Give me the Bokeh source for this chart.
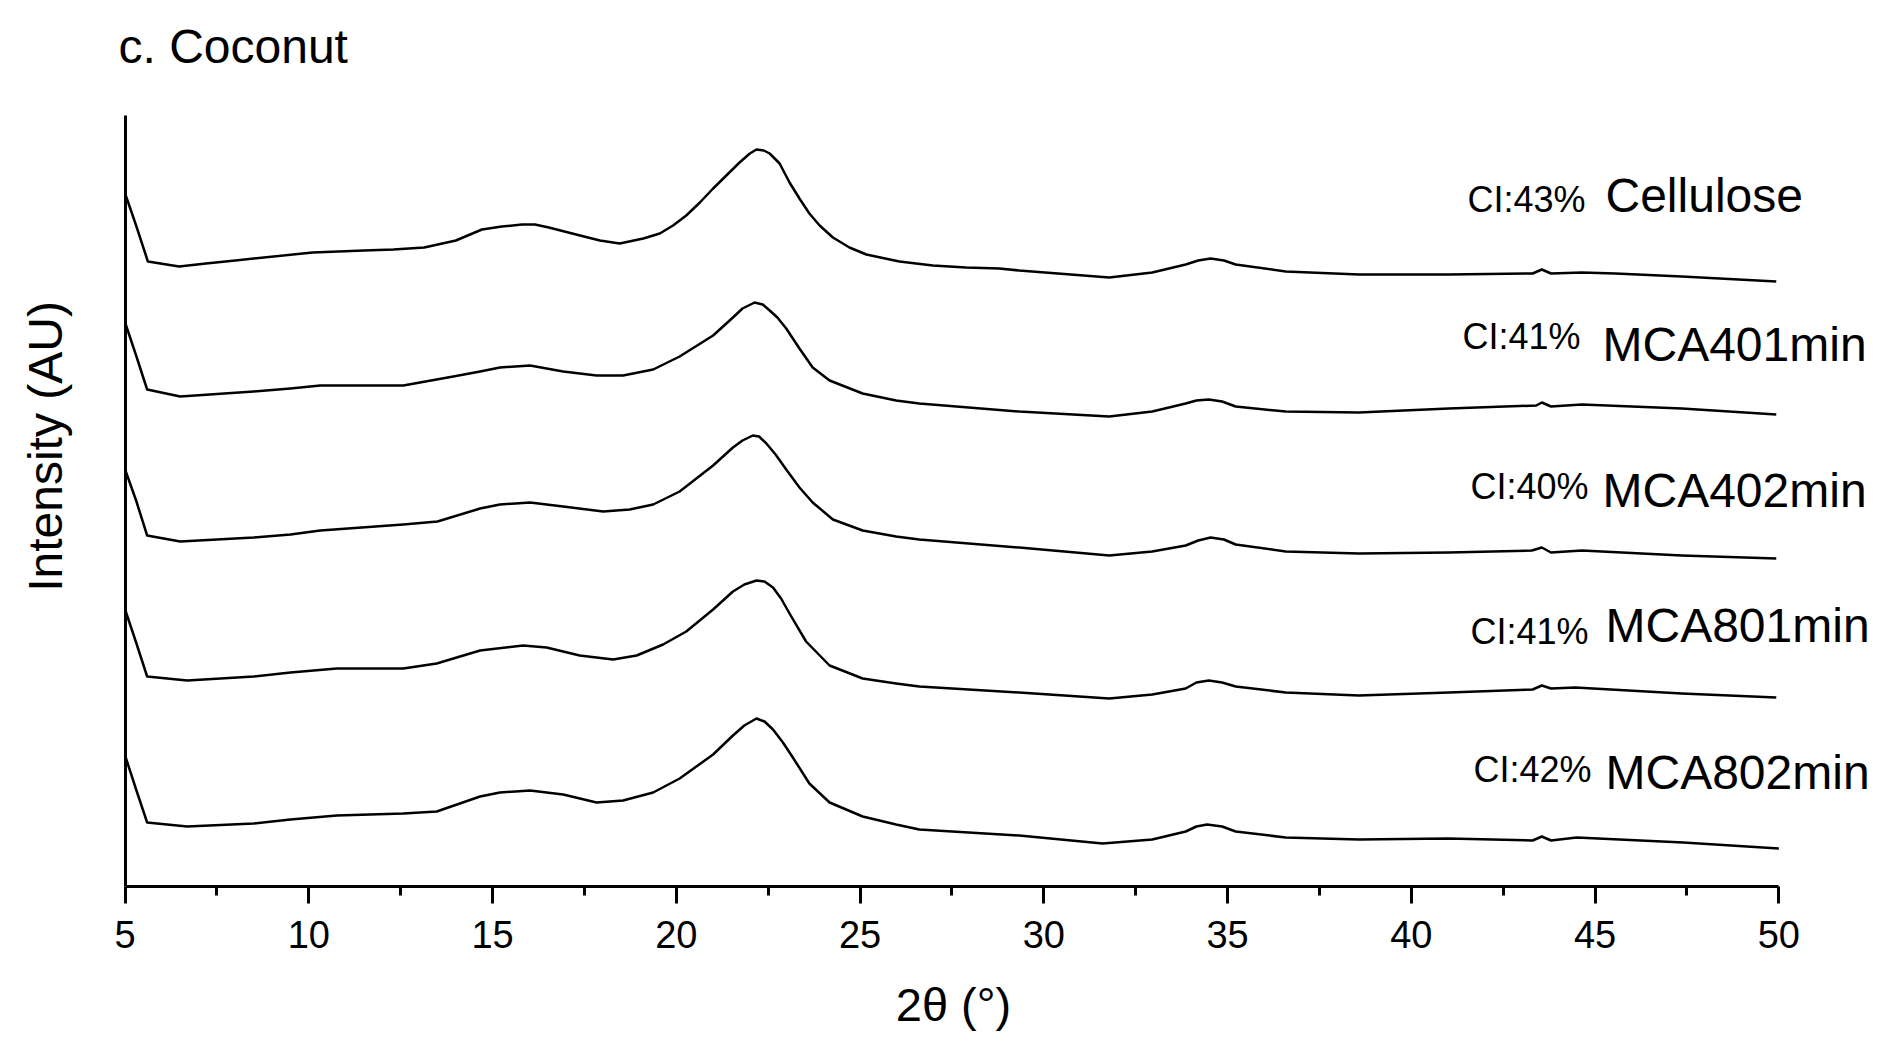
import math
from bokeh.plotting import figure
from bokeh.models import Label, Range1d, FixedTicker
from bokeh.embed import file_html
from bokeh.resources import INLINE

# ---------------- data (stacked intensities, AU) ----------------
two_theta_cellulose = [5.0, 5.3, 5.62, 6.47, 7.2, 8.0, 10.1, 11.5, 12.3, 13.14, 14.0, 14.71, 15.25, 15.8,
                       16.15, 16.53, 17.38, 17.92, 18.46, 19.10, 19.55, 19.91, 20.27, 20.64, 21.0, 21.36,
                       21.72, 22.0, 22.18, 22.38, 22.54, 22.81, 23.08, 23.35, 23.62, 23.9, 24.26, 24.71,
                       25.17, 26.07, 26.98, 27.88, 28.79, 29.33, 31.78, 32.95, 33.86, 34.2, 34.54, 34.9,
                       35.22, 36.58, 38.57, 41.02, 43.3, 43.55, 43.8, 44.64, 45.55, 47.36, 49.93]
int_cellulose = [693, 661, 625, 620, 623, 626, 634, 636, 637, 639, 646, 657, 660, 662,
                 662, 659, 651, 646, 643, 648, 653, 661, 671, 684, 698, 711,
                 724, 733, 737, 736, 733, 723, 704, 688, 673, 661, 649, 639,
                 632, 625, 621, 619, 618, 616, 609, 614, 622, 626, 628, 626,
                 622, 615, 612, 612, 613, 617, 613, 614, 613, 610, 605]

two_theta_mca401 = [5.0, 5.3, 5.6, 6.5, 8.5, 9.5, 10.31, 11.5, 12.57, 13.93, 14.66, 15.2, 16.02, 16.92,
                    17.83, 18.55, 19.37, 20.09, 21.0, 21.54, 21.8, 22.13, 22.35, 22.54, 22.75, 22.99,
                    23.35, 23.71, 24.17, 25.07, 25.98, 26.61, 29.33, 31.78, 32.95, 33.86, 34.15, 34.49,
                    34.85, 35.22, 36.58, 38.57, 41.02, 43.4, 43.55, 43.8, 44.64, 47.36, 49.93]
int_mca401 = [564, 531, 497, 490, 495, 498, 501, 501, 501, 510, 515, 519, 521, 515,
              511, 511, 517, 530, 551, 569, 578, 584, 582, 576, 569, 558,
              538, 519, 506, 493, 486, 483, 475, 470, 475, 483, 486, 487,
              485, 480, 475, 474, 478, 481, 484, 480, 482, 478, 472]

two_theta_mca402 = [5.0, 5.3, 5.6, 6.5, 8.5, 9.5, 10.31, 12.57, 13.5, 14.66, 15.2, 16.02, 16.92, 18.01,
                    18.73, 19.37, 20.09, 21.0, 21.54, 21.8, 22.08, 22.25, 22.45, 22.7, 22.99, 23.35,
                    23.71, 24.26, 25.07, 25.98, 26.61, 29.33, 31.78, 32.95, 33.86, 34.2, 34.54, 34.9,
                    35.22, 36.58, 38.57, 41.02, 43.28, 43.55, 43.8, 44.64, 47.36, 49.93]
int_mca402 = [417, 386, 351, 345, 349, 352, 356, 362, 365, 378, 382, 384, 380, 375,
              377, 382, 395, 421, 439, 446, 451, 450, 443, 432, 417, 399,
              384, 367, 356, 350, 347, 339, 331, 335, 341, 346, 349, 347,
              342, 335, 333, 334, 336, 339, 334, 336, 331, 328]

two_theta_mca801 = [5.0, 5.3, 5.6, 6.69, 8.5, 9.5, 10.76, 12.57, 13.48, 14.66, 15.83, 16.47, 17.37, 18.28,
                    18.92, 19.64, 20.27, 21.0, 21.54, 21.85, 22.18, 22.4, 22.63, 22.85, 23.08, 23.53,
                    24.17, 25.07, 25.98, 26.61, 29.33, 31.78, 32.95, 33.86, 34.15, 34.49, 34.85, 35.22,
                    36.58, 38.57, 41.02, 43.3, 43.55, 43.8, 44.46, 47.36, 49.93]
int_mca801 = [277, 244, 210, 206, 210, 214, 218, 218, 223, 236, 241, 239, 231, 227,
              231, 242, 255, 277, 295, 302, 306, 305, 299, 288, 273, 245,
              221, 208, 203, 200, 194, 188, 192, 198, 204, 206, 204, 200,
              194, 191, 194, 197, 201, 198, 199, 193, 189]

two_theta_mca802 = [5.0, 5.3, 5.6, 6.69, 8.5, 9.5, 10.76, 12.57, 13.48, 14.66, 15.2, 16.02, 16.92, 17.83,
                    18.55, 19.37, 20.09, 21.0, 21.54, 21.85, 22.18, 22.4, 22.63, 22.9, 23.17, 23.62,
                    24.17, 25.07, 25.98, 26.61, 29.33, 31.6, 32.95, 33.86, 34.15, 34.44, 34.85, 35.22,
                    36.58, 38.57, 41.0, 43.3, 43.55, 43.8, 44.5, 47.4, 50.0]
int_mca802 = [131, 97, 64, 60, 63, 67, 71, 73, 75, 90, 94, 96, 92, 84,
              86, 94, 108, 132, 151, 161, 168, 165, 157, 144, 129, 103,
              84, 70, 62, 57, 51, 43, 47, 55, 60, 62, 60, 55,
              49, 47, 48, 46, 50, 46, 49, 44, 38]

sample_names = ["Cellulose", "MCA401min", "MCA402min", "MCA801min", "MCA802min"]
ci_labels = ["CI:43%", "CI:41%", "CI:40%", "CI:41%", "CI:42%"]
x_ticks = [5, 10, 15, 20, 25, 30, 35, 40, 45, 50]
x_minor_ticks = [7.5, 12.5, 17.5, 22.5, 27.5, 32.5, 37.5, 42.5, 47.5]
y_axis_top = 771  # top end of the drawn intensity axis

series = [
    (two_theta_cellulose, int_cellulose),
    (two_theta_mca401, int_mca401),
    (two_theta_mca402, int_mca402),
    (two_theta_mca801, int_mca801),
    (two_theta_mca802, int_mca802),
]

# ---------------- layout ----------------
W, H = 1890, 1040
AXIS_X_PX = 124.6      # pixel where 2θ = 5
PX_PER_DEG = 36.75
AXIS_Y_PX = 886        # pixel row of the 2θ axis (intensity 0)
x0 = 5 - AXIS_X_PX / PX_PER_DEG
x1 = 5 + (W - AXIS_X_PX) / PX_PER_DEG
y0 = AXIS_Y_PX - H
y1 = AXIS_Y_PX

def dx(px):
    return 5 + (px - AXIS_X_PX) / PX_PER_DEG

def dy(py):
    return AXIS_Y_PX - py

# anchor pixels (left, row) of the annotation texts
ci_pos = [(1467, 199), (1462, 336), (1470, 486), (1470, 631), (1473, 769)]
name_pos = [(1605, 195), (1602, 344), (1602, 490), (1605, 625), (1605, 772)]

FONT = "Liberation Sans"

p = figure(width=W, height=H, output_backend="svg", toolbar_location=None,
           x_range=Range1d(x0, x1), y_range=Range1d(y0, y1),
           min_border_left=0, min_border_right=0, min_border_top=0, min_border_bottom=0)
try:
    p.title = None
except Exception:
    p.title.text = ""
p.outline_line_color = None
p.xgrid.visible = False
p.ygrid.visible = False
p.background_fill_color = "white"
p.border_fill_color = "white"

for xs, ys in series:
    p.line(xs, ys, line_color="black", line_width=2.5, line_join="round")

# x axis (drawn at intensity 0)
xa = p.xaxis[0]
xa.fixed_location = 0
xa.bounds = (5, 50)
xa.ticker = FixedTicker(ticks=x_ticks, minor_ticks=x_minor_ticks)
xa.axis_line_width = 3
xa.axis_line_color = "black"
xa.major_tick_line_width = 3
xa.minor_tick_line_width = 3
xa.major_tick_out = 17
xa.major_tick_in = 0
xa.minor_tick_out = 9
xa.minor_tick_in = 0
xa.major_label_text_font = FONT
xa.major_label_text_font_size = "38px"
xa.major_label_text_color = "black"
xa.major_label_standoff = 17

# y axis (line only, at 2θ = 5)
ya = p.yaxis[0]
ya.fixed_location = 5
ya.bounds = (0, y_axis_top)
ya.ticker = FixedTicker(ticks=[])
ya.major_label_text_font_size = "0px"
ya.major_tick_line_color = None
ya.minor_tick_line_color = None
ya.major_tick_out = 0
ya.minor_tick_out = 0
ya.axis_line_width = 3
ya.axis_line_color = "black"

# texts
p.add_layout(Label(x=dx(118), y=dy(46), text="c. Coconut", text_font=FONT,
                   text_font_size="48px", text_color="black",
                   text_baseline="alphabetic", text_align="left"))
p.add_layout(Label(x=dx(953), y=dy(1004), text="2θ (°)", text_font=FONT,
                   text_font_size="47px", text_color="black",
                   text_baseline="alphabetic", text_align="center"))
p.add_layout(Label(x=dx(45), y=dy(446), text="Intensity (AU)", text_font=FONT,
                   text_font_size="48px", text_color="black", angle=math.pi / 2,
                   text_baseline="alphabetic", text_align="center"))

for (cx, cy), (nx, ny), ci, name in zip(ci_pos, name_pos, ci_labels, sample_names):
    p.add_layout(Label(x=dx(cx), y=dy(cy), text=ci, text_font=FONT, text_font_size="36px",
                       text_color="black", text_baseline="alphabetic", text_align="left"))
    p.add_layout(Label(x=dx(nx), y=dy(ny), text=name, text_font=FONT, text_font_size="48px",
                       text_color="black", text_baseline="alphabetic", text_align="left"))

open("out.html", "w").write(file_html(p, INLINE))
